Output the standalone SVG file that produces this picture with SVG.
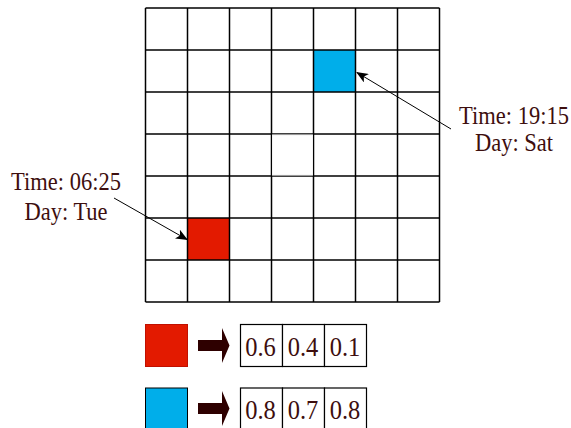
<svg xmlns="http://www.w3.org/2000/svg" width="571" height="428" viewBox="0 0 571 428">
<style>
.grid line{stroke:#000;stroke-width:1.5}
.lbl{font-family:"Liberation Serif","Times New Roman",serif;font-size:22.5px;fill:#3d0e0e;text-anchor:middle}
.num{font-family:"Liberation Serif","Times New Roman",serif;font-size:24.5px;fill:#3d0e0e;text-anchor:middle}
.cell{fill:#fff;stroke:#000;stroke-width:1.2}
.conn{stroke:#000;stroke-width:1;fill:none;marker-end:url(#ah)}
.barrow{fill:#2e0000}
</style>
<defs>
<marker id="ah" viewBox="0 0 12 10" refX="11" refY="5" markerWidth="12" markerHeight="10" markerUnits="userSpaceOnUse" orient="auto">
<path d="M0,0 L12,5 L0,10 L3,5 Z" fill="#000"/>
</marker>
</defs>
<rect x="0" y="0" width="571" height="428" fill="#fff"/>
<g id="grid" class="grid">
<rect id="cell-red" x="187.5" y="218" width="42" height="42" fill="#e31a00"/>
<rect id="cell-blue" x="313.5" y="50" width="42" height="42" fill="#00aeea"/>
<line x1="145.5" y1="8" x2="145.5" y2="302"/>
<line x1="187.5" y1="8" x2="187.5" y2="302"/>
<line x1="229.5" y1="8" x2="229.5" y2="302"/>
<line x1="271.5" y1="8" x2="271.5" y2="302"/>
<line x1="313.5" y1="8" x2="313.5" y2="302"/>
<line x1="355.5" y1="8" x2="355.5" y2="302"/>
<line x1="397.5" y1="8" x2="397.5" y2="302"/>
<line x1="439.5" y1="8" x2="439.5" y2="302"/>
<line x1="145.5" y1="8" x2="439.5" y2="8"/>
<line x1="145.5" y1="50" x2="439.5" y2="50"/>
<line x1="145.5" y1="92" x2="439.5" y2="92"/>
<line x1="145.5" y1="134" x2="439.5" y2="134"/>
<line x1="145.5" y1="176" x2="439.5" y2="176"/>
<line x1="145.5" y1="218" x2="439.5" y2="218"/>
<line x1="145.5" y1="260" x2="439.5" y2="260"/>
<line x1="145.5" y1="302" x2="439.5" y2="302"/>
<rect x="272.5" y="135" width="40" height="40" fill="#fff" stroke="#f2f2f2" stroke-width="1"/>
</g>
<g id="connectors">
<line class="conn" x1="451" y1="129" x2="357" y2="72.5"/>
<line class="conn" x1="114" y1="198" x2="187" y2="239.5"/>
</g>
<g id="label-blue">
<text class="lbl" transform="translate(514,123.5) scale(1,1.08)">Time: 19:15</text>
<text class="lbl" transform="translate(514,150.5) scale(1,1.08)">Day: Sat</text>
</g>
<g id="label-red">
<text class="lbl" transform="translate(66,190) scale(1,1.08)">Time: 06:25</text>
<text class="lbl" transform="translate(66,220) scale(1,1.08)">Day: Tue</text>
</g>
<g id="legend-red">
<rect x="145.5" y="324.5" width="42" height="42" fill="#e31a00" stroke="#c01000" stroke-width="1"/>
<path class="barrow" d="M198,340 L222,340 L222,328 L229.5,345.5 L222,363 L222,351 L198,351 Z"/>
<rect class="cell" x="240.5" y="324.5" width="42" height="42"/>
<rect class="cell" x="282.5" y="324.5" width="42" height="42"/>
<rect class="cell" x="324.5" y="324.5" width="42" height="42"/>
<text class="num" transform="translate(260.5,355.5) scale(1,1.15)">0.6</text>
<text class="num" transform="translate(303,355.5) scale(1,1.15)">0.4</text>
<text class="num" transform="translate(345,355.5) scale(1,1.15)">0.1</text>
</g>
<g id="legend-blue">
<rect x="145.5" y="388" width="42" height="42" fill="#00aeea" stroke="#000" stroke-width="1"/>
<path class="barrow" d="M198,403 L222,403 L222,391 L229.5,408.5 L222,426 L222,414 L198,414 Z"/>
<rect class="cell" x="240.5" y="388" width="42" height="42"/>
<rect class="cell" x="282.5" y="388" width="42" height="42"/>
<rect class="cell" x="324.5" y="388" width="42" height="42"/>
<text class="num" transform="translate(260.5,419) scale(1,1.15)">0.8</text>
<text class="num" transform="translate(303,419) scale(1,1.15)">0.7</text>
<text class="num" transform="translate(345,419) scale(1,1.15)">0.8</text>
</g>
</svg>
